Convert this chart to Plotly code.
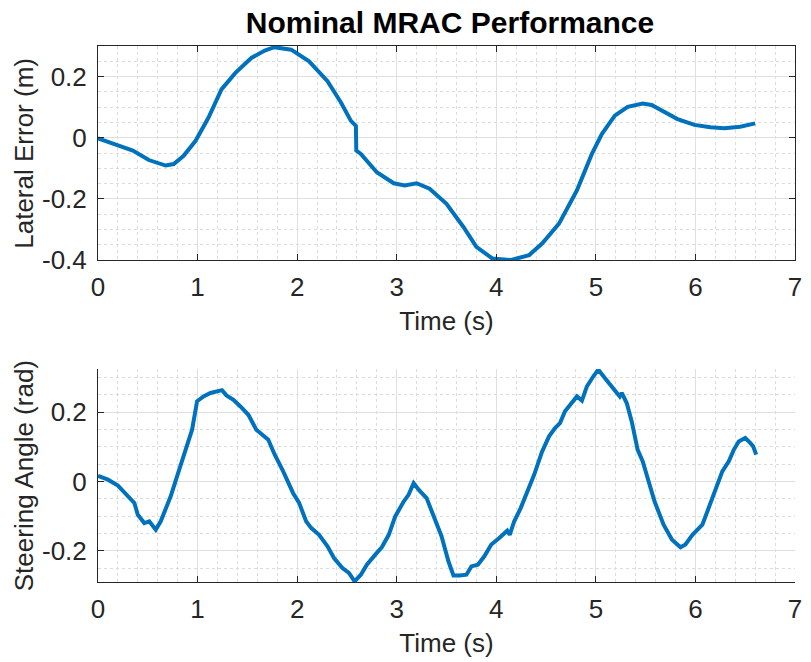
import plotly.graph_objects as go

# Lateral error (top)
t_err = [0.0, 0.116, 0.35, 0.51, 0.68, 0.76, 0.86, 0.98, 1.11, 1.24, 1.38, 1.54, 1.675, 1.77,
         1.94, 2.12, 2.305, 2.44, 2.54, 2.59, 2.594, 2.64, 2.80, 2.97, 3.08, 3.20, 3.33, 3.50,
         3.67, 3.80, 3.96, 4.15, 4.33, 4.46, 4.63, 4.81, 4.96, 5.06, 5.19, 5.32, 5.47, 5.56,
         5.66, 5.82, 5.99, 6.15, 6.29, 6.45, 6.60]
lat_err = [-0.002, -0.015, -0.042, -0.073, -0.091, -0.086, -0.059, -0.010, 0.066, 0.158, 0.212,
           0.261, 0.285, 0.296, 0.288, 0.250, 0.185, 0.115, 0.055, 0.039, -0.042, -0.053, -0.113,
           -0.149, -0.156, -0.149, -0.167, -0.216, -0.292, -0.357, -0.395, -0.400, -0.384, -0.346,
           -0.281, -0.172, -0.053, 0.012, 0.072, 0.101, 0.112, 0.107, 0.088, 0.061, 0.042, 0.034,
           0.031, 0.036, 0.047]

# Steering angle (bottom)
t_steer = [0.0, 0.10, 0.20, 0.30, 0.365, 0.40, 0.465, 0.515, 0.58, 0.63, 0.73, 0.81, 0.88, 0.945,
           0.995, 1.06, 1.13, 1.19, 1.245, 1.29, 1.36, 1.43, 1.51, 1.59, 1.66, 1.71, 1.775, 1.86,
           1.96, 2.02, 2.09, 2.14, 2.22, 2.305, 2.37, 2.455, 2.52, 2.577, 2.64, 2.70, 2.80, 2.85,
           2.92, 2.985, 3.07, 3.12, 3.17, 3.22, 3.30, 3.37, 3.45, 3.52, 3.57, 3.63, 3.70, 3.75,
           3.815, 3.88, 3.95, 4.03, 4.11, 4.135, 4.18, 4.245, 4.31, 4.38, 4.46, 4.53, 4.59, 4.64,
           4.69, 4.76, 4.81, 4.86, 4.91, 4.975, 5.025, 5.09, 5.17, 5.24, 5.26, 5.31, 5.36, 5.42,
           5.47, 5.52, 5.59, 5.68, 5.765, 5.85, 5.90, 5.97, 6.07, 6.17, 6.27, 6.335, 6.385, 6.435,
           6.50, 6.55, 6.58, 6.61]
steer = [0.016, 0.005, -0.012, -0.043, -0.062, -0.096, -0.120, -0.115, -0.139, -0.115, -0.043,
         0.029, 0.096, 0.149, 0.231, 0.245, 0.255, 0.259, 0.263, 0.248, 0.235, 0.216, 0.192, 0.149,
         0.130, 0.120, 0.077, 0.029, -0.034, -0.062, -0.115, -0.134, -0.154, -0.187, -0.221, -0.250,
         -0.264, -0.288, -0.269, -0.240, -0.206, -0.190, -0.154, -0.101, -0.058, -0.038, -0.005,
         -0.024, -0.048, -0.096, -0.158, -0.231, -0.271, -0.271, -0.269, -0.245, -0.240, -0.216,
         -0.182, -0.163, -0.142, -0.154, -0.115, -0.077, -0.034, 0.019, 0.086, 0.130, 0.154, 0.168,
         0.202, 0.226, 0.245, 0.233, 0.274, 0.303, 0.322, 0.298, 0.269, 0.245, 0.255, 0.226, 0.173,
         0.091, 0.058, 0.010, -0.058, -0.125, -0.168, -0.190, -0.182, -0.154, -0.125, -0.048, 0.029,
         0.058, 0.091, 0.115, 0.125, 0.111, 0.101, 0.077]

x_ticks = [0, 1, 2, 3, 4, 5, 6, 7]
top_y_ticks = [-0.4, -0.2, 0, 0.2]
top_y_labels = ["-0.4", "-0.2", "0", "0.2"]
bot_y_ticks = [-0.2, 0, 0.2]
bot_y_labels = ["-0.2", "0", "0.2"]

title_text = "Nominal MRAC Performance"
xlabel = "Time (s)"
ylabel_top = "Lateral Error (m)"
ylabel_bot = "Steering Angle (rad)"

LINE = "#0072BD"
AX = "#262626"
GRID = "#dfdfdf"
MINOR = "#dcdcdc"
FONT = "Liberation Sans, Arial, sans-serif"
FS = 26

fig = go.Figure()
fig.add_trace(go.Scatter(x=t_err, y=lat_err, mode="lines", line=dict(color=LINE, width=4),
                         xaxis="x", yaxis="y", showlegend=False))
fig.add_trace(go.Scatter(x=t_steer, y=steer, mode="lines", line=dict(color=LINE, width=4),
                         xaxis="x2", yaxis="y2", showlegend=False))

W, H = 811, 662
ml, mr, mt, mb = 98, 9, 46, 80
pw = W - ml - mr
ph = H - mt - mb
top_dom = [(582 - 260) / ph, 1.0]
bot_dom = [0.0, (582 - 369) / ph]

def xaxis_cfg(anchor, mirror):
    return dict(
        range=[0, 7], tickvals=x_ticks, ticktext=[str(v) for v in x_ticks],
        ticks="inside", ticklen=6, tickcolor=AX, tickwidth=1,
        showline=True, linecolor=AX, linewidth=1, mirror=mirror,
        showgrid=True, gridcolor=GRID, gridwidth=1,
        minor=dict(dtick=0.2, showgrid=True, gridcolor=MINOR, griddash="dot", gridwidth=1, ticks=""),
        tickfont=dict(family=FONT, size=FS, color=AX), ticklabelstandoff=4,
        title=dict(text=xlabel, font=dict(family=FONT, size=FS, color=AX), standoff=10),
        anchor=anchor, zeroline=False, fixedrange=True,
    )

def yaxis_cfg(anchor, domain, rng, tv, tt, mirror):
    return dict(
        domain=domain, range=rng, tickvals=tv, ticktext=tt,
        ticks="inside", ticklen=6, tickcolor=AX, tickwidth=1,
        showline=True, linecolor=AX, linewidth=1, mirror=mirror,
        showgrid=True, gridcolor=GRID, gridwidth=1,
        minor=dict(dtick=0.05, showgrid=True, gridcolor=MINOR, griddash="dot", gridwidth=1, ticks=""),
        tickfont=dict(family=FONT, size=FS, color=AX), ticklabelstandoff=5,
        anchor=anchor, zeroline=False, fixedrange=True,
    )

ylab_x = (23 - ml) / pw
fig.update_layout(
    width=W, height=H,
    margin=dict(l=ml, r=mr, t=mt, b=mb),
    paper_bgcolor="white", plot_bgcolor="white",
    xaxis=xaxis_cfg("y", "ticks"),
    yaxis=yaxis_cfg("x", top_dom, [-0.4, 0.3], top_y_ticks, top_y_labels, "ticks"),
    xaxis2=xaxis_cfg("y2", False),
    yaxis2=yaxis_cfg("x2", bot_dom, [-0.29, 0.324], bot_y_ticks, bot_y_labels, False),
    title=dict(text="<b>" + title_text + "</b>", x=450 / W, xanchor="center",
               y=1 - 22 / H, yanchor="middle",
               font=dict(family=FONT, size=30, color="black")),
    annotations=[
        dict(text=ylabel_top, xref="paper", yref="paper", x=ylab_x,
             y=(top_dom[0] + top_dom[1]) / 2, textangle=-90, showarrow=False,
             xanchor="center", yanchor="middle",
             font=dict(family=FONT, size=FS, color=AX)),
        dict(text=ylabel_bot, xref="paper", yref="paper", x=ylab_x,
             y=(bot_dom[0] + bot_dom[1]) / 2, textangle=-90, showarrow=False,
             xanchor="center", yanchor="middle",
             font=dict(family=FONT, size=FS, color=AX)),
    ],
)

fig.write_html("out.html")
